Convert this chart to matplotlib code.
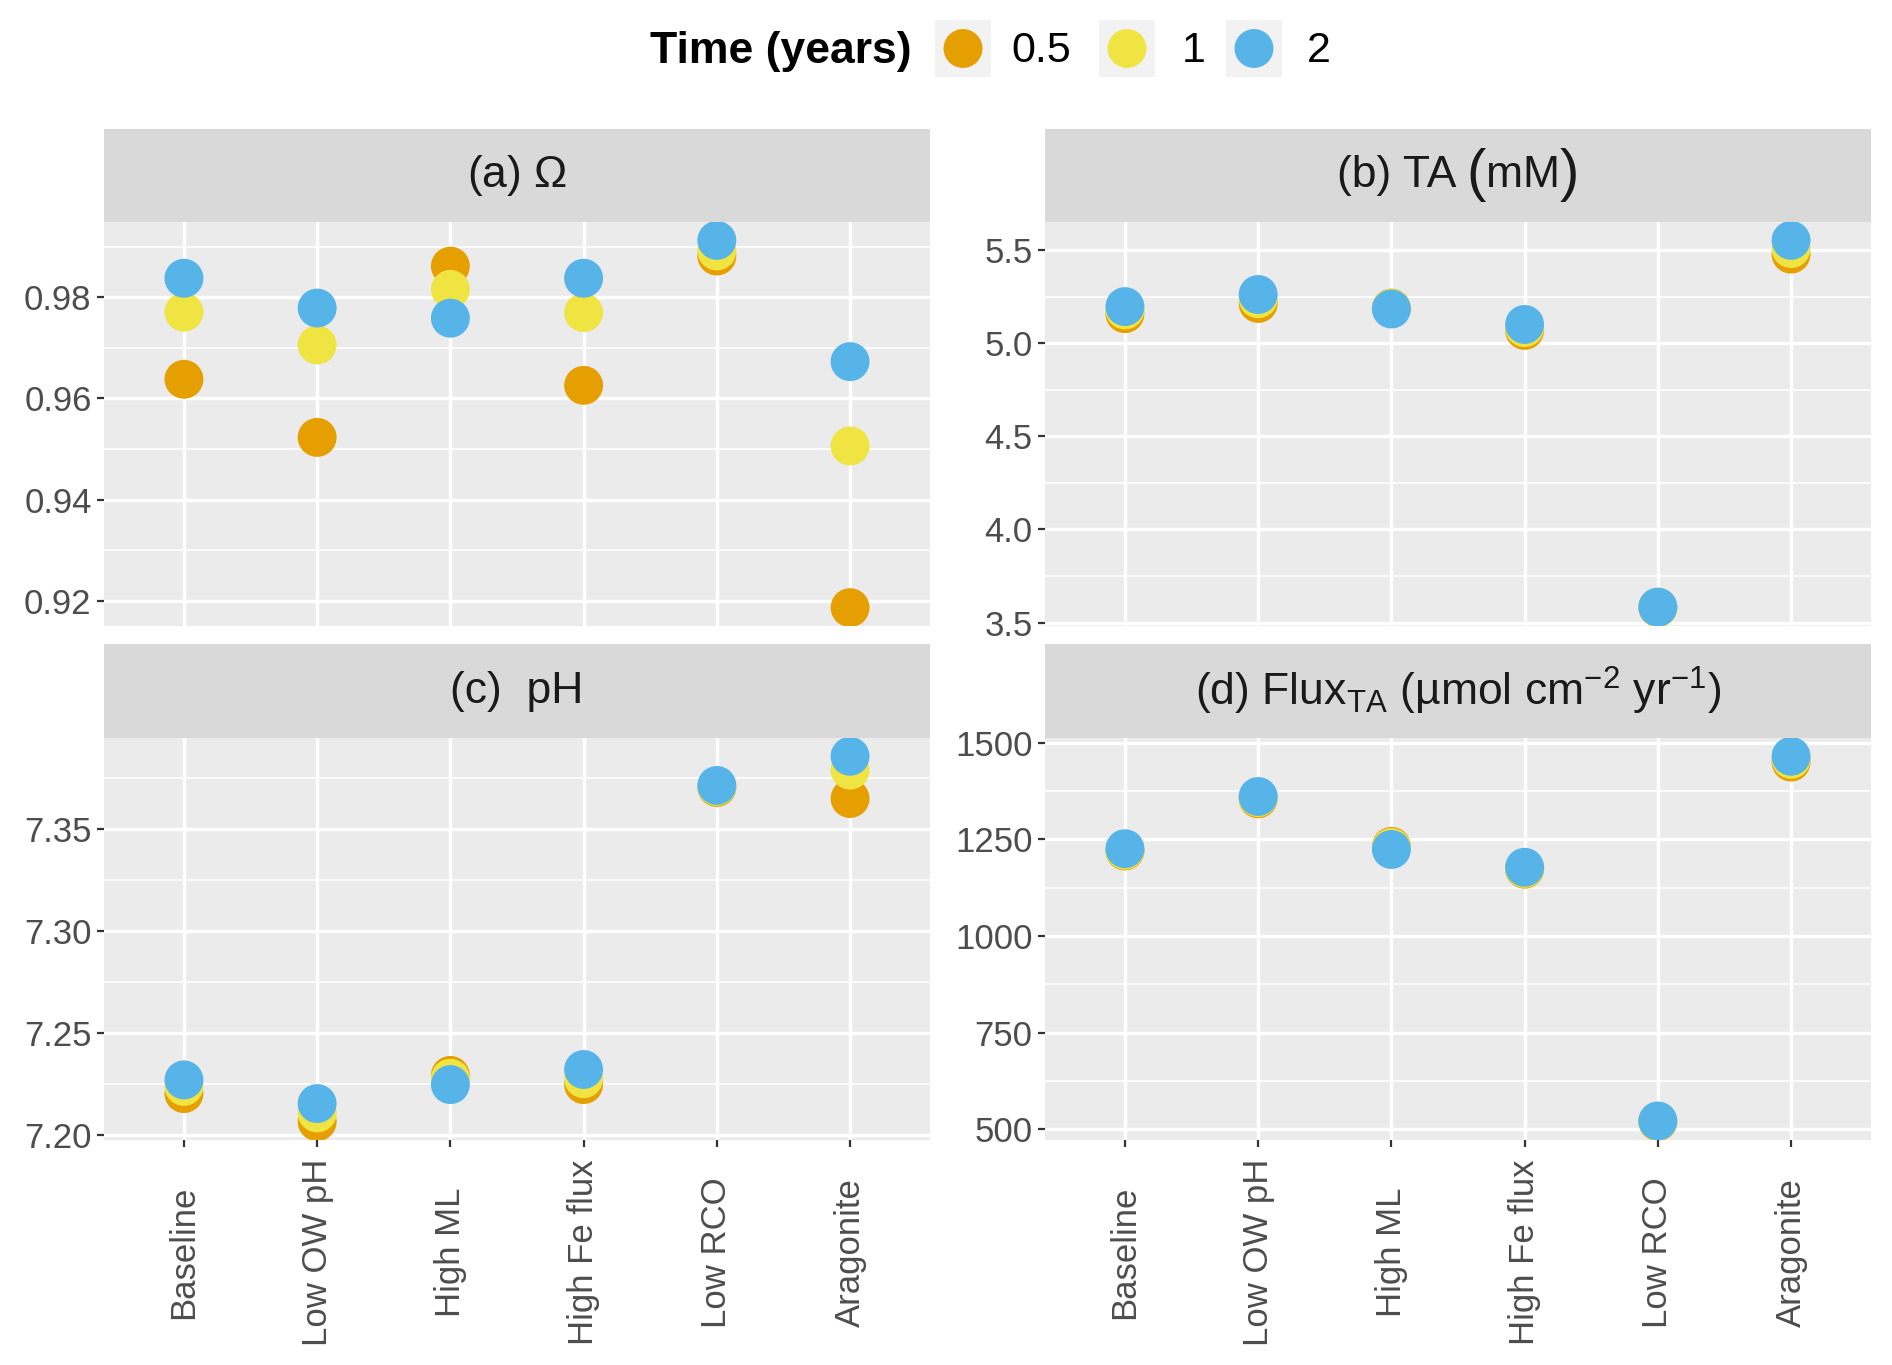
import numpy as np
import matplotlib
matplotlib.use("Agg")
import matplotlib.pyplot as plt
from matplotlib.ticker import MultipleLocator, AutoMinorLocator, FormatStrFormatter
from matplotlib.transforms import offset_copy

plt.rcParams['font.family'] = ['Liberation Sans', 'DejaVu Sans']
plt.rcParams['mathtext.fontset'] = 'custom'
plt.rcParams['mathtext.rm'] = 'Liberation Sans'
plt.rcParams['mathtext.it'] = 'Liberation Sans:italic'
plt.rcParams['mathtext.bf'] = 'Liberation Sans:bold'

# data
categories = ["Baseline", "Low OW pH", "High ML", "High Fe flux", "Low RCO", "Aragonite"]
times = ["0.5", "1", "2"]
colors = ["#E69F00", "#F0E442", "#56B4E9"]

omega_05 = [0.9638, 0.9523, 0.9862, 0.9626, 0.9882, 0.9186]
omega_1 = [0.9771, 0.9706, 0.9816, 0.9770, 0.9892, 0.9506]
omega_2 = [0.9838, 0.9779, 0.9759, 0.9838, 0.9913, 0.9673]

ta_05 = [5.160, 5.215, 5.190, 5.070, 3.580, 5.480]
ta_1 = [5.180, 5.240, 5.190, 5.085, 3.582, 5.510]
ta_2 = [5.198, 5.263, 5.185, 5.102, 3.583, 5.554]

ph_05 = [7.2205, 7.2067, 7.2294, 7.2249, 7.3705, 7.3651]
ph_1 = [7.2240, 7.2110, 7.2280, 7.2278, 7.3710, 7.3790]
ph_2 = [7.2272, 7.2156, 7.2249, 7.2323, 7.3715, 7.3858]

flux_05 = [1220, 1355, 1232, 1173, 520, 1450]
flux_1 = [1222, 1358, 1229, 1175, 521, 1457]
flux_2 = [1226, 1361, 1224, 1178, 522, 1465]

# strip titles as (text, size) pieces; (b) has tall brackets
titles = [[(r"(a) $\Omega$", 32)],
          [("(b) TA ", 32), ("(", 42), ("mM", 32), (")", 42)],
          [("(c)  pH", 32)],
          [(r"(d) Flux$_{\mathrm{TA}}$ (µmol cm$^{-2}$ yr$^{-1}$)", 32)]]
panels = [(omega_05, omega_1, omega_2), (ta_05, ta_1, ta_2),
          (ph_05, ph_1, ph_2), (flux_05, flux_1, flux_2)]
major_steps = [0.02, 0.5, 0.05, 250]
fmts = ["%.2f", "%.1f", "%.2f", "%d"]

W, H = 1892, 1365
fig = plt.figure(figsize=(W / 100, H / 100), dpi=100)
renderer = fig.canvas.get_renderer()

# pixel boxes: left, right, strip top, plot top, plot bottom
lefts = [104, 1045, 104, 1045]
rights = [930, 1871, 930, 1871]
strip_tops = [129, 129, 644, 644]
plot_tops = [222, 222, 738, 738]
plot_bottoms = [626, 626, 1140, 1140]

x = np.arange(len(categories))
msize = 28 ** 2


def strip_title(sax, pieces):
    # lay pieces out left to right, then shift the group to the centre
    texts = []
    widths = []
    for txt, size in pieces:
        t = sax.text(0, 0.5, txt, ha="left", va="center", fontsize=size,
                     color="#1A1A1A", transform=sax.transAxes)
        texts.append(t)
        widths.append(t.get_window_extent(renderer).width)
    total = sum(widths)
    box = sax.get_window_extent(renderer)
    start = box.x0 + (box.width - total) / 2
    xpos = start
    for t, w in zip(texts, widths):
        t.set_transform(offset_copy(sax.transAxes, fig=fig,
                                    x=(xpos - box.x0) * 72 / fig.dpi, y=0,
                                    units="points"))
        xpos += w


for i in range(4):
    l, r = lefts[i], rights[i]
    st, pt, pb = strip_tops[i], plot_tops[i], plot_bottoms[i]
    ax = fig.add_axes([l / W, 1 - pb / H, (r - l) / W, (pb - pt) / H])
    sax = fig.add_axes([l / W, 1 - pt / H, (r - l) / W, (pt - st) / H])
    sax.set_facecolor("#D9D9D9")
    sax.set_xticks([])
    sax.set_yticks([])
    for s in sax.spines.values():
        s.set_visible(False)
    strip_title(sax, titles[i])

    ax.set_facecolor("#EBEBEB")
    for s in ax.spines.values():
        s.set_visible(False)
    vals = panels[i]
    for k in range(3):
        ax.scatter(x, vals[k], s=msize, color=colors[k], edgecolors="none",
                   zorder=3 + k)
    lo = min(min(v) for v in vals)
    hi = max(max(v) for v in vals)
    pad = (hi - lo) * 0.05
    ax.set_ylim(lo - pad, hi + pad)
    ax.set_xlim(-0.6, len(categories) - 0.4)
    ax.yaxis.set_major_locator(MultipleLocator(major_steps[i]))
    ax.yaxis.set_minor_locator(AutoMinorLocator(2))
    ax.yaxis.set_major_formatter(FormatStrFormatter(fmts[i]))
    ax.set_xticks(x)
    ax.grid(True, which="major", color="white", linewidth=2.4, zorder=0)
    ax.grid(True, which="minor", axis="y", color="white", linewidth=1.2, zorder=0)
    ax.set_axisbelow(True)
    ax.tick_params(axis="y", which="major", length=5, width=1.6, color="#333333",
                   labelsize=25, labelcolor="#4D4D4D", pad=4)
    ax.tick_params(axis="y", which="minor", length=0)
    if i >= 2:
        ax.set_xticklabels(categories)
        ax.tick_params(axis="x", length=5, width=1.6, color="#333333",
                       labelsize=25, labelcolor="#4D4D4D", pad=76)
        for t in ax.get_xticklabels():
            t.set_rotation(90)
            t.set_va("center")
            t.set_ha("center")
    else:
        ax.tick_params(axis="x", length=0, labelbottom=False)

# legend along the top
fig.text(912 / W, 1 - 51 / H, "Time (years)", ha="right", va="center",
         fontsize=32, fontweight="bold", color="black")
key_lefts = [935, 1099, 1226]
label_lefts = [1011, 1182, 1307]
for k in range(3):
    kax = fig.add_axes([key_lefts[k] / W, 1 - 77 / H, 56 / W, 57 / H])
    kax.set_facecolor("#F2F2F2")
    kax.scatter([0], [0], s=msize, color=colors[k], edgecolors="none")
    kax.set_xlim(-1, 1)
    kax.set_ylim(-1, 1)
    kax.set_xticks([])
    kax.set_yticks([])
    for s in kax.spines.values():
        s.set_visible(False)
    fig.text(label_lefts[k] / W, 1 - 51 / H, times[k], ha="left", va="center",
             fontsize=31, color="black")

fig.savefig("out.png", dpi=100)
